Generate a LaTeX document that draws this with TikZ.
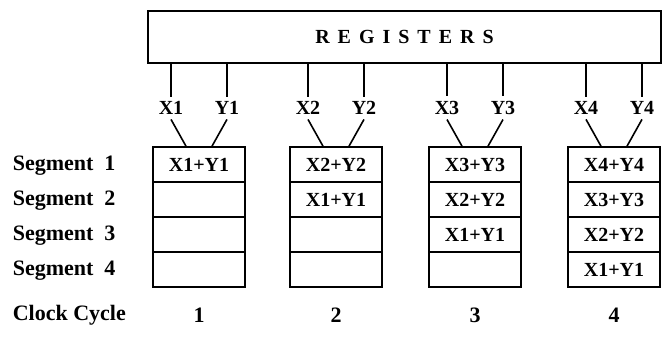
\documentclass[tikz,border=0pt]{standalone}
\usepackage{fontspec}
\setmainfont{Liberation Serif}
\usepackage{tikz}

\begin{document}
\begin{tikzpicture}[
    x=1pt, y=-1pt,
    line width=1.6pt,
    cell/.style={draw, minimum width=92pt, minimum height=35pt, inner sep=0pt,
        font=\fontsize{20}{20}\selectfont\bfseries},
    inlabel/.style={inner sep=4pt, font=\fontsize{20}{20}\selectfont\bfseries},
    sidelabel/.style={anchor=west, inner sep=0pt, font=\fontsize{22}{22}\selectfont\bfseries}
]
    \useasboundingbox (0,0) rectangle (662,347);

    % register file across the top
    \node[
        draw,
        minimum width=513pt,
        minimum height=52pt,
        inner sep=0pt,
        font=\fontsize{20}{20}\selectfont\bfseries
    ] (regs) at (404.5,37) {{\spaceskip=8pt R E G I S T E R S}};

    % row names
    \foreach \r in {1,...,4} {
        \node[sidelabel] (seg\r) at (12,{147+35*(\r-0.5)+1}) {Segment\hspace{11pt}\r};
    }
    \node[sidelabel] (clock) at (12,315) {Clock Cycle};

    % one pipeline column per clock cycle
    \foreach \c/\cx in {1/199,2/336,3/475,4/614} {
        \node[inlabel] (x\c) at (\cx-28,108) {X\c};
        \node[inlabel] (y\c) at (\cx+28,108) {Y\c};
        \foreach \r in {1,...,4} {
            \pgfmathtruncatemacro{\k}{\c-\r+1}
            \ifnum\k>0
                \node[cell] (cell\c\r) at (\cx,{147+35*(\r-0.5)}) {X\k+Y\k};
            \else
                \node[cell] (cell\c\r) at (\cx,{147+35*(\r-0.5)}) {};
            \fi
        }
        \coordinate (inx\c) at ([xshift=-13pt]cell\c1.north);
        \coordinate (iny\c) at ([xshift=13pt]cell\c1.north);
        \draw (regs.south -| x\c) -- (x\c.north);
        \draw (regs.south -| y\c) -- (y\c.north);
        \draw (x\c.south) -- (inx\c);
        \draw (y\c.south) -- (iny\c);
        \node[inlabel, font=\fontsize{22}{22}\selectfont\bfseries] (cyc\c) at (\cx,315) {\c};
    }
\end{tikzpicture}
\end{document}
